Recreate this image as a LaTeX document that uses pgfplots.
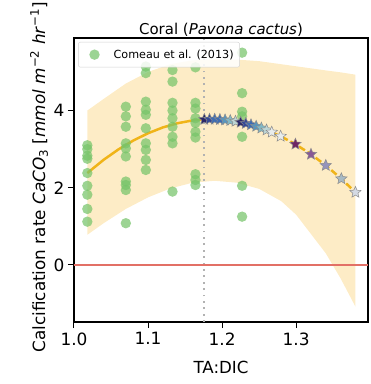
\documentclass[border=0pt]{standalone}
\usepackage{fontspec}
\setmainfont{DejaVu Sans}
\usepackage{pgfplots}
\pgfplotsset{compat=1.18}
\definecolor{ptgreen}{RGB}{118,196,106}
\definecolor{band}{RGB}{253,236,198}
\definecolor{fitc}{RGB}{240,180,25}
\definecolor{zeroline}{RGB}{226,112,102}
\definecolor{sa}{RGB}{42,38,105}
\definecolor{sb}{RGB}{52,72,150}
\definecolor{sc}{RGB}{62,108,178}
\definecolor{sd}{RGB}{88,150,190}
\definecolor{se}{RGB}{130,185,198}
\definecolor{sf}{RGB}{190,215,215}
\definecolor{sg}{RGB}{232,236,236}
\definecolor{sp}{RGB}{110,38,100}
\definecolor{sq}{RGB}{135,88,150}
\definecolor{sr}{RGB}{150,148,188}
\definecolor{ss}{RGB}{168,186,196}
\definecolor{st}{RGB}{212,218,228}
\pgfdeclareplotmark{fstar}{%
  \pgfpathmoveto{\pgfpointpolar{90}{\pgfplotmarksize}}%
  \pgfpathlineto{\pgfpointpolar{126}{0.45\pgfplotmarksize}}%
  \pgfpathlineto{\pgfpointpolar{162}{\pgfplotmarksize}}%
  \pgfpathlineto{\pgfpointpolar{198}{0.45\pgfplotmarksize}}%
  \pgfpathlineto{\pgfpointpolar{234}{\pgfplotmarksize}}%
  \pgfpathlineto{\pgfpointpolar{270}{0.45\pgfplotmarksize}}%
  \pgfpathlineto{\pgfpointpolar{306}{\pgfplotmarksize}}%
  \pgfpathlineto{\pgfpointpolar{342}{0.45\pgfplotmarksize}}%
  \pgfpathlineto{\pgfpointpolar{18}{\pgfplotmarksize}}%
  \pgfpathlineto{\pgfpointpolar{54}{0.45\pgfplotmarksize}}%
  \pgfpathclose
  \pgfusepathqfillstroke
}
\begin{document}
\begin{tikzpicture}
\begin{axis}[
  scale only axis,
  width=294bp, height=284bp,
  xmin=1.0, xmax=1.397,
  ymin=-1.48, ymax=5.88,
  xtick={1.0,1.1,1.2,1.3},
  xticklabels={1.0,1.1,1.2,1.3},
  ytick={0,2,4},
  tick align=outside,
  tick pos=left,
  major tick length=6bp,
  axis line style={line width=1.1bp},
  every tick/.style={black, line width=1bp},
  /pgf/number format/assume math mode=true,
  ticklabel style={font=\fontsize{17}{17}\selectfont},
  xticklabel style={yshift=-1bp},
  xlabel={TA:DIC},
  xlabel style={font=\fontsize{16.7}{18}\selectfont, yshift=-9bp},
  ylabel={Calcification rate \textit{CaCO}\textsubscript{3} [\textit{mmol m}\textsuperscript{−2} \textit{hr}\textsuperscript{−1}]},
  ylabel style={font=\fontsize{16.9}{18}\selectfont, at={(axis description cs:-0.119,0.51)}, rotate=0, anchor=center},
  title={Coral (\textit{Pavona cactus})},
  title style={font=\fontsize{15}{18}\selectfont, yshift=-8bp},
  legend style={at={(0.014,0.986)}, anchor=north west, draw=black!18, rounded corners=2bp,
    fill=white, fill opacity=0.85, text opacity=1, font=\fontsize{11.2}{14}\selectfont,
    inner xsep=4bp, inner ysep=5.5bp, cells={anchor=west}},
  legend image code/.code={\path (0bp,0bp) (29bp,0bp); \draw[#1] plot coordinates {(12bp,0bp)};},
  legend cell align=left,
  clip=true,
]
% prediction band
\addplot[fill=band, draw=none, forget plot] coordinates {
 (1.018,4.00) (1.04,4.30) (1.07,4.70) (1.10,5.00) (1.13,5.20) (1.16,5.30) (1.19,5.33)
 (1.22,5.32) (1.25,5.28) (1.28,5.20) (1.31,5.12) (1.34,5.04) (1.36,4.99) (1.38,4.93)
 (1.38,-1.08) (1.36,-0.35) (1.34,0.30) (1.32,0.80) (1.30,1.30) (1.28,1.65) (1.25,1.97)
 (1.22,2.13) (1.19,2.18) (1.16,2.13) (1.13,1.98) (1.10,1.75) (1.07,1.45) (1.04,1.08) (1.018,0.78)
} -- cycle;
% zero line
\addplot[zeroline, line width=1.4bp, forget plot] coordinates {(1.0,0) (1.397,0)};
% vertical dotted
\addplot[black!30, line width=1.8bp, dash pattern=on 1.8bp off 4.6bp, forget plot] coordinates {(1.176,-1.48) (1.176,5.88)};
% data points
\addplot[only marks, mark=*, mark size=5.2bp, color=ptgreen, mark options={fill=ptgreen, draw opacity=0, fill opacity=0.72}] coordinates {
 (1.018,3.10) (1.018,3.00) (1.018,2.83) (1.018,2.75) (1.018,2.38) (1.018,2.05) (1.018,1.82) (1.018,1.45) (1.018,1.12)
 (1.070,4.10) (1.070,3.85) (1.070,3.58) (1.070,3.15) (1.070,3.02) (1.070,2.81) (1.070,2.16) (1.070,2.07) (1.070,1.94) (1.070,1.08)
 (1.097,5.14) (1.097,4.97) (1.097,4.23) (1.097,4.02) (1.097,3.89) (1.097,3.54) (1.097,3.15) (1.097,2.98) (1.097,2.72) (1.097,2.46)
 (1.133,5.05) (1.133,4.75) (1.133,4.20) (1.133,4.00) (1.133,3.80) (1.133,3.58) (1.133,3.32) (1.133,3.15) (1.133,1.90)
 (1.164,5.12) (1.164,4.20) (1.164,4.05) (1.164,3.80) (1.164,3.68) (1.164,3.45) (1.164,3.30) (1.164,2.35) (1.164,2.20) (1.164,2.07)
 (1.227,5.50) (1.227,4.45) (1.227,3.97) (1.227,3.85) (1.227,3.32) (1.227,2.05) (1.227,1.25)
};
\addlegendentry{Comeau et al. (2013)}
% fit solid
\addplot[fitc, line width=2.5bp, forget plot] coordinates {
 (1.018,2.380) (1.04,2.723) (1.06,2.993) (1.08,3.222) (1.10,3.412) (1.12,3.562) (1.14,3.672) (1.16,3.743) (1.176,3.770)
};
% fit dashed
\addplot[fitc, line width=2.5bp, dash pattern=on 7bp off 3bp, forget plot] coordinates {
 (1.176,3.770) (1.20,3.763) (1.22,3.714) (1.24,3.624) (1.26,3.495) (1.28,3.325) (1.30,3.116) (1.32,2.867) (1.34,2.578) (1.36,2.249) (1.38,1.880)
};
% stars
\addplot[scatter, only marks, scatter src=explicit symbolic, forget plot,
  mark=fstar, mark size=6bp,
  scatter/classes={
    a={mark=fstar, fill=sa, draw=black!45, line width=0.5bp},
    b={mark=fstar, fill=sb, draw=black!45, line width=0.5bp},
    c={mark=fstar, fill=sc, draw=black!45, line width=0.5bp},
    d={mark=fstar, fill=sd, draw=black!45, line width=0.5bp},
    e={mark=fstar, fill=se, draw=black!45, line width=0.5bp},
    f={mark=fstar, fill=sf, draw=black!45, line width=0.5bp},
    g={mark=fstar, fill=sg, draw=black!45, line width=0.5bp},
    p={mark=fstar, fill=sp, draw=black!45, line width=0.5bp},
    q={mark=fstar, fill=sq, draw=black!45, line width=0.5bp},
    r={mark=fstar, fill=sr, draw=black!45, line width=0.5bp},
    s={mark=fstar, fill=ss, draw=black!45, line width=0.5bp},
    t={mark=fstar, fill=st, draw=black!45, line width=0.5bp}}]
 table[meta=c] {
 x y c
 1.176 3.770 a
 1.183 3.774 b
 1.190 3.773 c
 1.197 3.767 c
 1.204 3.756 d
 1.211 3.741 e
 1.218 3.720 f
 1.225 3.695 a
 1.232 3.665 b
 1.239 3.630 c
 1.246 3.590 d
 1.253 3.545 e
 1.260 3.495 f
 1.267 3.440 g
 1.279 3.335 g
 1.299 3.128 p
 1.320 2.867 q
 1.340 2.578 r
 1.361 2.232 s
 1.380 1.880 t
};
\end{axis}
\pgfresetboundingbox
\path[use as bounding box] ([xshift=-74bp,yshift=-62bp]current axis.south west) rectangle ++(371bp,384bp);
\end{tikzpicture}
\end{document}
